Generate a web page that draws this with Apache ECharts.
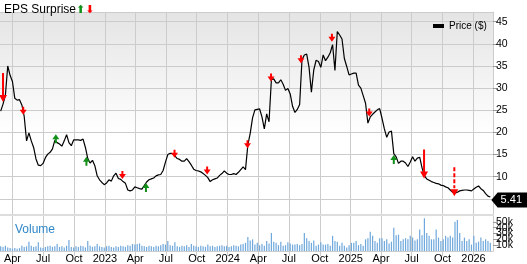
<!DOCTYPE html>
<html><head><meta charset="utf-8">
<script src="https://cdn.jsdelivr.net/npm/echarts@6/dist/echarts.min.js"></script>
<style>html,body{margin:0;padding:0;background:#fff}#c{width:527px;height:264px}</style>
</head><body><div id="c"></div>
<script>
// ---------- DATA ----------
const firstWeek = '2022-02-25';          // first weekly close
const weekCount = 209;
const priceValues = [
  24.8, 26.4, 28.4, 35.0, 32.9, 31.5, 27.7, 27.3, 27.4, 26.2,
  23.6, 18.1, 19.9, 18.1, 16.6, 14.0, 12.6, 12.5, 13.0, 14.3,
  15.1, 15.5, 16.3, 18.2, 17.7, 17.4, 16.9, 18.1, 19.5, 17.7,
  17.0, 18.3, 18.3, 18.3, 18.2, 18.5, 16.6, 14.1, 13.1, 13.7,
  12.5, 10.2, 9.3, 8.7, 8.2, 8.6, 9.3, 9.0, 10.2, 10.8,
  9.6, 9.4, 8.9, 8.5, 7.0, 6.8, 7.0, 7.7, 7.5, 7.3,
  7.2, 8.0, 8.8, 9.3, 9.5, 9.7, 10.2, 10.4, 10.5, 11.4,
  13.3, 15.0, 15.3, 15.2, 14.7, 14.1, 13.9, 13.5, 13.5, 14.1,
  13.4, 12.6, 11.7, 11.4, 11.3, 11.1, 10.7, 10.3, 9.8, 8.9,
  9.3, 9.5, 9.7, 10.3, 10.7, 11.3, 10.8, 10.5, 10.5, 10.7,
  10.5, 11.0, 11.6, 12.2, 11.6, 17.2, 19.8, 23.3, 25.1, 25.2,
  25.3, 23.5, 20.8, 24.2, 22.4, 31.9, 32.1, 31.2, 31.2, 31.9,
  30.9, 29.5, 29.9, 28.7, 25.9, 24.5, 25.2, 26.3, 36.4, 37.5,
  37.7, 34.7, 29.1, 34.1, 36.3, 36.0, 34.7, 37.5, 36.2, 37.0,
  38.0, 39.8, 34.0, 42.8, 42.0, 41.1, 36.7, 34.9, 33.0, 33.2,
  33.4, 33.4, 30.7, 30.0, 28.3, 26.6, 22.1, 23.5, 24.1, 24.6,
  25.1, 25.4, 23.2, 20.8, 18.9, 20.1, 20.3, 15.2, 14.5, 13.0,
  13.5, 13.5, 13.1, 12.3, 13.3, 14.5, 13.5, 14.2, 14.4, 12.0,
  10.2, 9.5, 9.2, 8.9, 8.7, 8.5, 8.4, 8.1, 8.0, 7.7,
  7.5, 7.0, 6.5, 6.3, 6.5, 6.8, 6.9, 7.0, 7.0, 6.9,
  6.8, 7.2, 7.6, 7.9, 7.3, 6.9, 6.2, 5.6, 5.41
];
const volumeK = [
  8,7,9,6,5,4,5,4,5,9,7,8,16,
  9,7,8,15,6,5,7,8,9,7,8,12,7,
  8,6,9,19,7,6,8,7,9,8,6,17,9,
  7,8,12,8,7,6,8,9,7,6,8,7,9,
  8,7,10,9,12,11,12,13,9,8,7,9,8,
  7,9,8,10,12,11,17,10,9,15,8,7,9,
  8,10,7,12,9,8,7,9,8,7,11,8,9,
  7,8,9,10,8,9,7,8,10,9,8,11,12,
  14,24,18,20,11,14,10,12,9,17,13,31,16,
  14,10,16,9,10,15,13,11,11,12,10,12,31,
  22,17,14,18,9,11,15,11,11,12,9,26,17,
  16,9,14,9,6,10,14,14,17,10,12,9,20,
  22,33,26,17,14,22,22,17,20,13,16,40,27,
  28,17,20,22,20,26,23,18,20,37,27,56,31,
  26,20,20,37,23,17,20,26,23,26,23,50,53,
  31,17,23,17,20,11,26,14,16,23,17,20,17,14
];
const xTickDates = ['2022-04-01','2022-07-01','2022-10-01','2023-01-01','2023-04-01','2023-07-01','2023-10-01','2024-01-01',
  '2024-04-01','2024-07-01','2024-10-01','2025-01-01','2025-04-01','2025-07-01','2025-10-01','2026-01-01'];
const xTickLabels = ['Apr','Jul','Oct','2023','Apr','Jul','Oct','2024','Apr','Jul','Oct','2025','Apr','Jul','Oct','2026'];
const xRange = ['2022-02-23', '2026-02-28'];
const priceGridValues = [5,10,15,20,25,30,35,40,45];
const priceTickLabels = [10,15,20,25,30,35,40,45];
const priceRange = [1.35, 47.2];
const volumeTickValues = [0,10000,20000,30000,40000,50000,60000];
const volumeTickLabels = ['0','10k','20k','30k','40k','50k','60k'];
const lastPrice = 5.41;

const missDates  = ['2022-05-03','2023-02-22','2023-07-27','2023-11-01','2024-02-29','2024-05-09','2024-08-06','2024-11-06','2025-02-25'];
const missValues = [24.0, 9.5, 14.3, 10.5, 16.4, 31.5, 35.6, 40.5, 23.6];
const bigMissDates  = ['2022-03-04','2025-08-07'];
const bigMissValues = [26.9, 9.6];
const dashMissDates  = ['2025-11-05'];
const dashMissValues = [5.6];
const beatDates  = ['2022-08-08','2022-11-07','2023-05-03','2025-05-09'];
const beatValues = [19.6, 14.5, 8.6, 14.9];

// ---------- BUILD ----------
function d(s){ const p=s.split('-').map(Number); return new Date(p[0],p[1]-1,p[2]).getTime(); }
const s0 = firstWeek.split('-').map(Number);
const weeks = [];
for (let i=0;i<weekCount;i++) weeks.push(new Date(s0[0], s0[1]-1, s0[2]+7*i).getTime());
const priceData = weeks.map((t,i)=>[t, priceValues[i]]);
const volData = weeks.map((t,i)=>[t, volumeK[i]*1000]);
const xTicks = xTickDates.map(d);
const pair = (ds, vs) => ds.map((s,i)=>[d(s), vs[i]]);
const FONT = 'Arial, "Liberation Sans", sans-serif';
const GRID = '#cccccc';

const xLabelFmt = v => { const k = xTicks.indexOf(v); return k>=0 ? xTickLabels[k] : ''; };

const chart = echarts.init(document.getElementById('c'), null, {renderer:'canvas'});
chart.setOption({
  animation:false,
  textStyle:{fontFamily:FONT},
  title:[
    {text:'EPS Surprise{g|⬆}{r|⬇}', left:-1, top:-1,
     textStyle:{fontSize:12, fontWeight:'normal', color:'#000', fontFamily:FONT,
       rich:{g:{color:'#12901a', fontSize:11, fontFamily:'"DejaVu Sans"'},
             r:{color:'#ff0000', fontSize:11, fontFamily:'"DejaVu Sans"'}}}},
    {text:'Volume', left:10, top:219, textStyle:{fontSize:12, fontWeight:'normal', color:'#2f87c9', fontFamily:FONT}}
  ],
  legend:{data:['Price ($)'], left:428, top:16, icon:'rect', itemWidth:11, itemHeight:4, itemGap:4,
    textStyle:{fontSize:10, color:'#000', fontFamily:FONT}},
  grid:[
    {left:0, right:34, top:12, height:203, show:true, borderWidth:0,
     backgroundColor:{type:'linear', x:0, y:0, x2:0, y2:1,
       colorStops:[{offset:0,color:'#e4e4e4'},{offset:0.6,color:'#ffffff'},{offset:1,color:'#ffffff'}]}},
    {left:0, right:34, top:216, height:35.7}
  ],
  xAxis:[
    {type:'value', gridIndex:0, min:d(xRange[0]), max:d(xRange[1]), position:'bottom',
     axisLine:{show:true, lineStyle:{color:'#dddddd', width:2}},
     axisTick:{show:false, customValues:xTicks}, axisLabel:{show:false, customValues:xTicks},
     splitLine:{show:true, lineStyle:{color:GRID, width:1}}},
    {type:'value', gridIndex:0, min:d(xRange[0]), max:d(xRange[1]), position:'top',
     axisLine:{show:true, lineStyle:{color:GRID, width:1}},
     axisTick:{show:false}, axisLabel:{show:false}, splitLine:{show:false}},
    {type:'value', gridIndex:1, min:d(xRange[0]), max:d(xRange[1]), position:'bottom',
     axisLine:{show:true, lineStyle:{color:GRID, width:1}},
     axisTick:{show:true, length:5, customValues:xTicks, lineStyle:{color:GRID}},
     axisLabel:{show:true, customValues:xTicks, formatter:xLabelFmt, fontSize:11, color:'#000', margin:2, fontFamily:FONT, hideOverlap:false},
     splitLine:{show:true, lineStyle:{color:GRID, width:1}}}
  ],
  yAxis:[
    {type:'value', gridIndex:0, position:'right', min:priceRange[0], max:priceRange[1],
     axisLine:{show:true, lineStyle:{color:GRID}},
     axisTick:{show:true, length:5, customValues:priceGridValues, lineStyle:{color:'#999'}},
     axisLabel:{customValues:priceTickLabels, fontSize:10.5, color:'#000', margin:3, fontFamily:FONT},
     splitLine:{show:true, lineStyle:{color:GRID, width:1}}},
    {type:'value', gridIndex:1, position:'right', min:0, max:60000,
     axisLine:{show:true, lineStyle:{color:GRID}},
     axisTick:{show:true, length:5, customValues:volumeTickValues, lineStyle:{color:'#999'}},
     axisLabel:{customValues:volumeTickValues, fontSize:10.5, color:'#000', margin:3, fontFamily:FONT, hideOverlap:false,
       formatter:v=>volumeTickLabels[volumeTickValues.indexOf(v)]},
     splitLine:{show:false}}
  ],
  series:[
    {name:'Price ($)', type:'line', xAxisIndex:0, yAxisIndex:0, data:priceData, showSymbol:false, symbol:'none',
     lineStyle:{color:'#000', width:1.2}, itemStyle:{color:'#000'}, z:3,
     markPoint:{symbol:'path://M0,8 L7,0 L40,0 L40,16 L7,16 Z', symbolSize:[36,15], symbolKeepAspect:false,
       symbolOffset:[19,3], itemStyle:{color:'#000'},
       label:{show:true, color:'#fff', fontSize:11, fontFamily:FONT, offset:[2,0], formatter:p=>p.value.toFixed(2)},
       data:[{coord:[weeks[weekCount-1], lastPrice], value:lastPrice}]}},
    {name:'vol', type:'bar', xAxisIndex:2, yAxisIndex:1, data:volData, barWidth:1.2,
     itemStyle:{color:'#6fa8dc'}},
    {name:'miss', type:'scatter', xAxisIndex:0, yAxisIndex:0, data:pair(missDates, missValues), z:5,
     symbol:'path://M2.5,0 L4.5,0 L4.5,3 L7,3 L3.5,8 L0,3 L2.5,3 Z', symbolSize:[7,8], symbolKeepAspect:false,
     symbolOffset:[0,'-50%'], itemStyle:{color:'#ff0000', opacity:1}},
    {name:'bigmiss', type:'scatter', xAxisIndex:0, yAxisIndex:0, data:pair(bigMissDates, bigMissValues), z:5,
     symbol:'path://M3,0 L5,0 L5,22 L8,22 L4,29 L0,22 L3,22 Z', symbolSize:[8,29], symbolKeepAspect:false,
     symbolOffset:[0,'-50%'], itemStyle:{color:'#ff0000', opacity:1}},
    {name:'dashmiss', type:'scatter', xAxisIndex:0, yAxisIndex:0, data:pair(dashMissDates, dashMissValues), z:5,
     symbol:'path://M3,0 L5,0 L5,4 L3,4 Z M3,6 L5,6 L5,10 L3,10 Z M3,12 L5,12 L5,16 L3,16 Z M3,18 L5,18 L5,21 L3,21 Z M0,22 L8,22 L4,29 Z',
     symbolSize:[8,29], symbolKeepAspect:false,
     symbolOffset:[0,'-50%'], itemStyle:{color:'#ff0000', opacity:1}},
    {name:'beat', type:'scatter', xAxisIndex:0, yAxisIndex:0, data:pair(beatDates, beatValues), z:5,
     symbol:'path://M3.5,0 L7,5 L4.5,5 L4.5,9 L2.5,9 L2.5,5 L0,5 Z', symbolSize:[7,9], symbolKeepAspect:false,
     symbolOffset:[0,'50%'], itemStyle:{color:'#12901a', opacity:1}}
  ]
});
</script></body></html>
